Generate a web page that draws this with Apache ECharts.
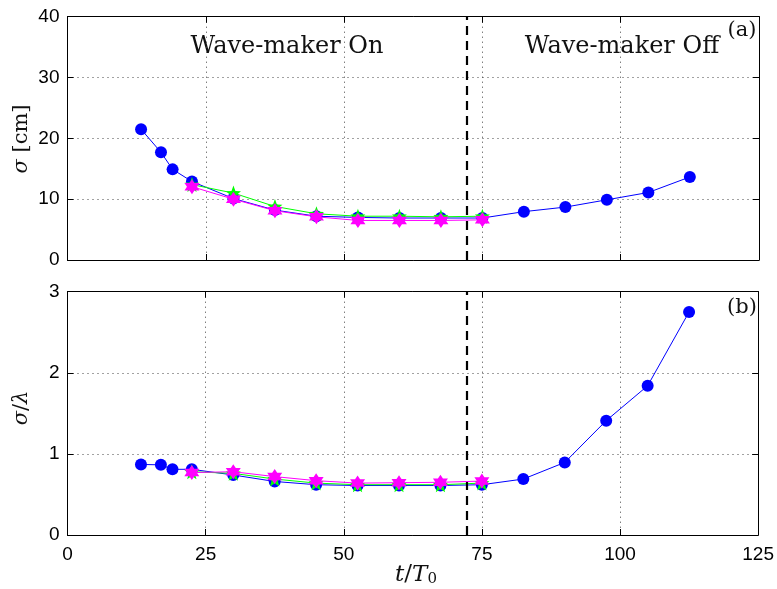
<!DOCTYPE html>
<html>
<head>
<meta charset="utf-8">
<script src="https://cdn.jsdelivr.net/npm/echarts@6/dist/echarts.min.js"></script>
<style>
html,body{margin:0;padding:0;background:#fff;}
#c{width:777px;height:589px;}
</style>
</head>
<body>
<div id="c"></div>
<script>
// ---- data ----
var tBlue = [13.3, 16.9, 19.0, 22.5, 30, 37.5, 45, 52.5, 60, 67.5, 75, 82.5, 90, 97.5, 105, 112.5];
var tStar = [22.5, 30, 37.5, 45, 52.5, 60, 67.5, 75];
var sigmaBlue = [21.5, 17.7, 14.9, 12.9, 10.1, 8.2, 7.2, 7.0, 6.9, 6.9, 6.9, 7.95, 8.7, 9.9, 11.1, 13.65];
var sigmaGreen = [12.4, 11.0, 8.8, 7.6, 7.2, 7.2, 7.1, 7.2];
var sigmaPink = [12.05, 10.0, 8.1, 7.1, 6.5, 6.5, 6.5, 6.6];
var ratioBlue = [0.87, 0.865, 0.81, 0.81, 0.74, 0.66, 0.62, 0.61, 0.61, 0.61, 0.62, 0.69, 0.895, 1.41, 1.84, 2.75];
var ratioGreen = [0.78, 0.76, 0.69, 0.64, 0.62, 0.62, 0.62, 0.64];
var ratioPink = [0.77, 0.78, 0.72, 0.67, 0.64, 0.645, 0.65, 0.665];
var xTicks = [0, 25, 50, 75, 100, 125];
var yTicksTop = [0, 10, 20, 30, 40];
var yTicksBottom = [0, 1, 2, 3];
var wavemakerOffT = 72.2;

function zip(xs, ys) { return xs.map(function (x, i) { return [x, ys[i]]; }); }

function starPath(n, rIn) {
  var pts = [];
  for (var i = 0; i < 2 * n; i++) {
    var a = -Math.PI / 2 + i * Math.PI / n;
    var r = (i % 2 === 0) ? 1 : rIn;
    pts.push((50 + 50 * r * Math.cos(a)).toFixed(2) + ',' + (50 + 50 * r * Math.sin(a)).toFixed(2));
  }
  return 'path://M' + pts.join('L') + 'Z';
}
var pentagram = starPath(5, 0.42);
var hexagram = starPath(6, 0.58);

var chart = echarts.init(document.getElementById('c'), null, {renderer: 'canvas'});

var sans = "'Liberation Sans', Arial, sans-serif";
var L = 67.5, W = 691.5;

var grids = [
  {left: L, top: 16.7, width: W, height: 243.3},
  {left: L, top: 291.7, width: W, height: 243.3}
];

function xAx(gi, pos, show) {
  return {
    type: 'value', gridIndex: gi, position: pos, min: 0, max: 125, interval: 25,
    axisLine: {show: true, onZero: false, lineStyle: {color: '#000', width: 1}},
    axisTick: {show: true, inside: true, length: 6, lineStyle: {color: '#000'}},
    axisLabel: {show: show, color: '#000', fontFamily: sans, fontSize: 19, margin: 10},
    splitLine: {show: pos === 'bottom', lineStyle: {color: '#444', type: [1, 4], width: 1}}
  };
}
function yAx(gi, pos, max, interval, show) {
  return {
    type: 'value', gridIndex: gi, position: pos, min: 0, max: max, interval: interval,
    axisLine: {show: true, onZero: false, lineStyle: {color: '#000', width: 1}},
    axisTick: {show: true, inside: true, length: 6, lineStyle: {color: '#000'}},
    axisLabel: {show: show, color: '#000', fontFamily: sans, fontSize: 19, margin: 8},
    splitLine: {show: pos === 'left', lineStyle: {color: '#444', type: [1, 4], width: 1}}
  };
}

function lineSeries(xi, yi, data, color, symbol, size, z) {
  return {
    type: 'line', xAxisIndex: xi, yAxisIndex: yi, data: data,
    symbol: symbol, symbolSize: size, showSymbol: true,
    lineStyle: {color: color, width: 1},
    itemStyle: {color: color, borderWidth: 0},
    z: z, animation: false
  };
}

var dashMark = {
  type: 'line', xAxisIndex: 0, yAxisIndex: 0, data: [], silent: true,
  markLine: {
    symbol: 'none', silent: true, animation: false, label: {show: false},
    lineStyle: {color: '#000', width: 2.2, type: [9, 6]},
    data: [{xAxis: wavemakerOffT}]
  }, z: 1
};
var dashMark2 = JSON.parse(JSON.stringify(dashMark));
dashMark2.xAxisIndex = 2; dashMark2.yAxisIndex = 2;

var SF = '"DejaVu Serif"';
var option = {
  backgroundColor: '#fff',
  animation: false,
  grid: grids,
  xAxis: [xAx(0, 'bottom', false), xAx(0, 'top', false), xAx(1, 'bottom', true), xAx(1, 'top', false)],
  yAxis: [yAx(0, 'left', 40, 10, true), yAx(0, 'right', 40, 10, false), yAx(1, 'left', 3, 1, true), yAx(1, 'right', 3, 1, false)],
  series: [
    dashMark, dashMark2,
    lineSeries(0, 0, zip(tBlue, sigmaBlue), '#0000ff', 'circle', 12, 3),
    lineSeries(0, 0, zip(tStar, sigmaGreen), '#00ff00', pentagram, 15, 4),
    lineSeries(0, 0, zip(tStar, sigmaPink), '#ff00ff', hexagram, 15, 5),
    lineSeries(2, 2, zip(tBlue, ratioBlue), '#0000ff', 'circle', 12, 3),
    lineSeries(2, 2, zip(tStar, ratioGreen), '#00ff00', pentagram, 15, 4),
    lineSeries(2, 2, zip(tStar, ratioPink), '#ff00ff', hexagram, 15, 5)
  ],
  graphic: [
    {type: 'text', x: 287, y: 47, style: {text: 'Wave-maker On', align: 'center', verticalAlign: 'middle', font: '24px ' + SF, fill: '#111'}},
    {type: 'text', x: 622, y: 47, style: {text: 'Wave-maker Off', align: 'center', verticalAlign: 'middle', font: '24px ' + SF, fill: '#111'}},
    {type: 'text', x: 742, y: 31, style: {text: '(a)', align: 'center', verticalAlign: 'middle', font: '21px ' + SF, fill: '#111'}},
    {type: 'text', x: 742, y: 308, style: {text: '(b)', align: 'center', verticalAlign: 'middle', font: '21px ' + SF, fill: '#111'}},
    {type: 'text', x: 22, y: 139, rotation: Math.PI / 2,
      style: {text: '{i|σ} [cm]', align: 'center', verticalAlign: 'middle',
        rich: {i: {font: 'italic 21px ' + SF, fill: '#111'}},
        font: '21px ' + SF, fill: '#111'}},
    {type: 'text', x: 22, y: 408, rotation: Math.PI / 2,
      style: {text: '{i|σ}/{i|λ}', align: 'center', verticalAlign: 'middle',
        rich: {i: {font: 'italic 21px ' + SF, fill: '#111'}},
        font: '21px ' + SF, fill: '#111'}},
    {type: 'text', x: 416, y: 574,
      style: {text: '{i|t}/{i|T}{s|0}', align: 'center', verticalAlign: 'middle',
        rich: {i: {font: 'italic 23px ' + SF, fill: '#111', verticalAlign: 'bottom'},
               s: {font: '15px ' + SF, fill: '#111', padding: [10, 0, 0, 0]}},
        font: '23px ' + SF, fill: '#111'}}
  ]
};
chart.setOption(option);
</script>
</body>
</html>
